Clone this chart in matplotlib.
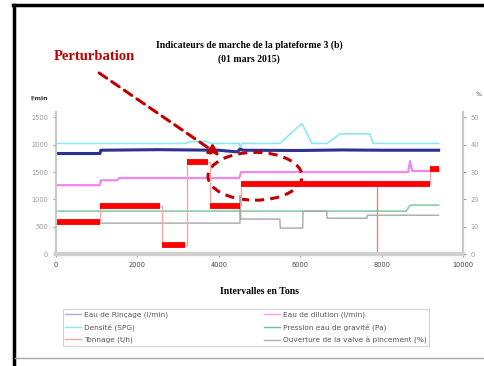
import matplotlib
matplotlib.use("Agg")
import matplotlib.pyplot as plt
from matplotlib.patches import Ellipse
from matplotlib.lines import Line2D

# data (left axis in l/min scale, right axis 0-52)
rincage_x = [0, 1080, 1100, 2500, 4000, 4450, 4520, 4600, 6000, 7000, 8000, 9400]
rincage_y = [1840, 1840, 1900, 1910, 1900, 1870, 1920, 1900, 1895, 1905, 1900, 1900]

densite_x = [0, 3200, 3300, 3700, 3800, 4500, 4520, 4560, 5500, 6040, 6290, 6660, 6980, 7710, 7790, 9400]
densite_y = [2025, 2025, 2060, 2060, 2025, 2025, 1880, 2025, 2025, 2390, 2025, 2025, 2200, 2200, 2025, 2025]

dilution_x = [0, 1080, 1100, 1500, 1550, 4500, 4550, 8650, 8700, 8750, 9400]
dilution_y = [1260, 1260, 1350, 1350, 1390, 1390, 1500, 1500, 1700, 1520, 1520]

pression_x = [0, 8600, 8700, 9400]
pression_y = [785, 785, 895, 895]

valve_x = [0, 4520, 4520, 4540, 5500, 5510, 6060, 6070, 6650, 6660, 7640, 7650, 9400]
valve_y = [11.3, 11.3, 21.5, 12.8, 12.8, 9.5, 9.5, 15.7, 15.7, 13.1, 13.1, 14.2, 14.2]

ton_start = [0, 1080, 2600, 3220, 3780, 4540, 9190]
ton_end = [1080, 2560, 3170, 3740, 4520, 9190, 9400]
ton_val = [11.7, 17.5, 3.2, 33.6, 17.5, 25.6, 31.0]
ton_drop_x = 7890

xticks = [0, 2000, 4000, 6000, 8000, 10000]
lticks = [0, 500, 1000, 1500, 2000, 2500]
rticks = [0, 10, 20, 30, 40, 50]

fig = plt.figure(figsize=(4.84, 3.66), dpi=100)
ax = fig.add_axes([0.1157, 0.306, 0.841, 0.388])
ax2 = ax.twinx()

c_blue = "#2e3192"
c_cyan = "#8ee8f0"
c_mag = "#ee88ee"
c_green = "#90d0b0"
c_gray = "#a8a8a8"
c_red = "#ff0000"

ax.plot(densite_x, densite_y, color=c_cyan, lw=1.2)
ax.plot(rincage_x, rincage_y, color=c_blue, lw=2.2)
ax.plot(dilution_x, dilution_y, color=c_mag, lw=1.6)
ax.plot(pression_x, pression_y, color=c_green, lw=1.3)
ax2.plot(valve_x, valve_y, color=c_gray, lw=1.0)
ax2.step(ton_start + [ton_end[-1]], ton_val + [ton_val[-1]], where="post",
         color="#f6a8a8", lw=1.0)
ax2.vlines(ton_drop_x, 0, ton_val[5], color="#f08080", lw=1.0)
ax2.hlines(ton_val, ton_start, ton_end, color=c_red, lw=4.2)

ax.set_xlim(0, 10000)
ax.set_ylim(0, 2600)
ax2.set_ylim(0, 52)
ax.set_xticks(xticks)
ax.set_yticks(lticks)
ax2.set_yticks(rticks)

for a in (ax, ax2):
    a.spines["top"].set_visible(False)
    a.spines["left"].set_color("#c8c8c8")
    a.spines["right"].set_color("#c8c8c8")
    a.spines["bottom"].set_color("#d0d0d0")
    a.spines["left"].set_linewidth(1.5)
    a.spines["right"].set_linewidth(1.5)
    a.spines["bottom"].set_linewidth(3)
    a.tick_params(labelsize=4.8, colors="#999999", length=2, width=0.8)
ax.tick_params(axis="x", labelcolor="#444444")

ax.text(-0.02, 1.1, "l/min", transform=ax.transAxes, fontsize=4.5,
        color="#333333", ha="right", va="center", fontweight="bold")
ax2.text(1.03, 1.12, "%", transform=ax.transAxes, fontsize=4.5,
         color="#333333", ha="left", va="center")

ax.set_xlabel("Intervalles en Tons", family="Liberation Serif",
              fontweight="bold", fontsize=7, labelpad=14)

fig.text(0.515, 0.857, "Indicateurs de marche de la plateforme 3 (b)\n(01 mars 2015)",
         ha="center", va="center", family="Liberation Serif", fontweight="bold",
         fontsize=7, linespacing=1.55)

fig.text(0.195, 0.845, "Perturbation", color="#c00000", family="Liberation Serif",
         fontweight="bold", fontsize=10.5, ha="center", va="center")

ax.annotate("", xy=(4080, 1770), xycoords="data", xytext=(0.2, 0.805),
            textcoords="figure fraction",
            arrowprops=dict(arrowstyle="-|>,head_length=0.6,head_width=0.3",
                            ls=(0, (3, 2)), color="#c00000", lw=2.2))
ax.add_patch(Ellipse((4890, 1423), 2310, 876, fill=False, ls=(0, (3, 2)),
                     edgecolor="#c00000", lw=2.2, zorder=5))

handles = [
    Line2D([], [], color="#b0a8e0", lw=1),
    Line2D([], [], color=c_cyan, lw=1),
    Line2D([], [], color="#f4a0a8", lw=1),
    Line2D([], [], color="#f0a0f0", lw=1),
    Line2D([], [], color="#70c0a0", lw=1),
    Line2D([], [], color="#b0b0b0", lw=1),
]
labels = [
    "Eau de Rinçage (l/min)",
    "Densité (SPG)",
    "Tonnage (t/h)",
    "Eau de dilution (l/min)",
    "Pression eau de gravité (Pa)",
    "Ouverture de la valve à pincement (%)",
]
leg = fig.legend(handles, labels, ncol=2, loc="upper left",
                 bbox_to_anchor=(0.122, 0.165), bbox_transform=fig.transFigure,
                 fontsize=5.3, frameon=True, fancybox=False, handlelength=2.2,
                 handletextpad=0.4, columnspacing=13, labelspacing=0.75,
                 borderpad=0.3)
leg.get_frame().set_edgecolor("#c8c8c8")
leg.get_frame().set_linewidth(0.8)
for t in leg.get_texts():
    t.set_color("#555555")

# slide frame
fig.add_artist(Line2D([0.027, 1.0], [0.986, 0.986], color="black", lw=2.5))
fig.add_artist(Line2D([0.029, 0.029], [0.0, 0.986], color="black", lw=2.5))
fig.add_artist(Line2D([0.032, 1.0], [0.022, 0.022], color="#aaaaaa", lw=1.0))

fig.savefig("out.png", dpi=100)
